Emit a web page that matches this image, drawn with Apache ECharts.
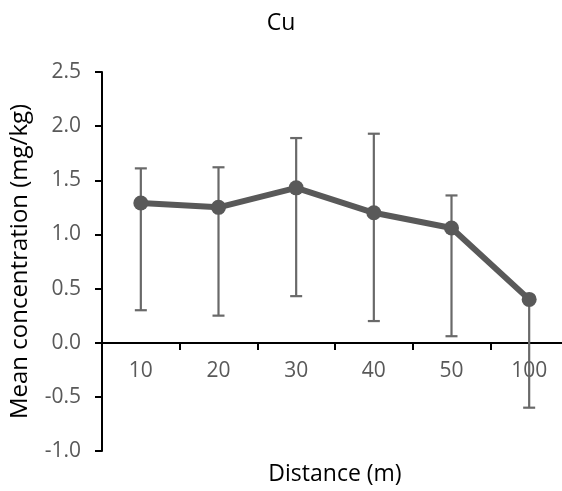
<!DOCTYPE html>
<html>
<head>
<meta charset="utf-8">
<script src="https://cdn.jsdelivr.net/npm/echarts@6/dist/echarts.min.js"></script>
<style>
  html, body { margin: 0; padding: 0; background: #fff; }
  #chart { width: 562px; height: 491px; }
</style>
</head>
<body>
<div id="chart"></div>
<script>
// distances along the transect
const categories = ["10", "20", "30", "40", "50", "100"];
// mean Cu concentration
const means = [1.29, 1.25, 1.43, 1.20, 1.06, 0.40];
// error bar ends
const upper = [1.61, 1.62, 1.89, 1.93, 1.36, 0.40];
const lower = [0.30, 0.25, 0.43, 0.20, 0.06, -0.60];

const fontFamily = "'Open Sans', sans-serif";

const errorData = categories.map((c, i) => [i, lower[i], upper[i]]);

const myChart = echarts.init(document.getElementById("chart"));
myChart.setOption({
    backgroundColor: "#ffffff",
    animation: false,
    title: {
        text: "Cu",
        left: "center",
        top: 7,
        textStyle: { color: "#000", fontSize: 23, fontWeight: "normal", fontFamily: fontFamily },
    },
    grid: { left: 102, right: -6, top: 72, bottom: 40, containLabel: false, outerBoundsMode: "none" },
    xAxis: {
        type: "category",
        data: categories,
        // sit the axis on y = 0 (one unit above the bottom of the grid)
        offset: -108,
        name: "Distance (m)",
        nameLocation: "middle",
        nameGap: 120,
        nameTextStyle: { color: "#000", fontSize: 23, fontFamily: fontFamily },
        axisLine: { onZero: false, lineStyle: { color: "#000", width: 2 } },
        axisTick: { show: true, length: 7, lineStyle: { color: "#000", width: 2 } },
        axisLabel: { color: "#595959", fontSize: 21, fontFamily: fontFamily, margin: 18 },
    },
    yAxis: {
        type: "value",
        min: -1,
        max: 2.5,
        interval: 0.5,
        name: "Mean concentration (mg/kg)",
        nameLocation: "middle",
        nameGap: 70,
        nameTextStyle: { color: "#000", fontSize: 24, fontFamily: fontFamily },
        axisLine: { show: true, lineStyle: { color: "#000", width: 2 } },
        axisTick: { show: true, length: 7, lineStyle: { color: "#000", width: 2 } },
        axisLabel: {
            color: "#595959",
            fontSize: 21,
            fontFamily: fontFamily,
            margin: 21,
            formatter: (v) => v.toFixed(1),
        },
        splitLine: { show: false },
    },
    series: [
        {
            type: "custom",
            z: 1,
            data: errorData,
            renderItem: (params, api) => {
                const x = api.value(0);
                const lo = api.coord([x, api.value(1)]);
                const hi = api.coord([x, api.value(2)]);
                const cap = 6;
                const style = { stroke: "#696969", lineWidth: 2.2 };
                return {
                    type: "group",
                    children: [
                        { type: "line", shape: { x1: hi[0], y1: hi[1], x2: lo[0], y2: lo[1] }, style: style },
                        { type: "line", shape: { x1: hi[0] - cap, y1: hi[1], x2: hi[0] + cap, y2: hi[1] }, style: style },
                        { type: "line", shape: { x1: lo[0] - cap, y1: lo[1], x2: lo[0] + cap, y2: lo[1] }, style: style },
                    ],
                };
            },
        },
        {
            type: "line",
            z: 2,
            data: means,
            symbol: "circle",
            symbolSize: 15,
            lineStyle: { color: "#595959", width: 6 },
            itemStyle: { color: "#595959" },
        },
    ],
});
</script>
</body>
</html>
